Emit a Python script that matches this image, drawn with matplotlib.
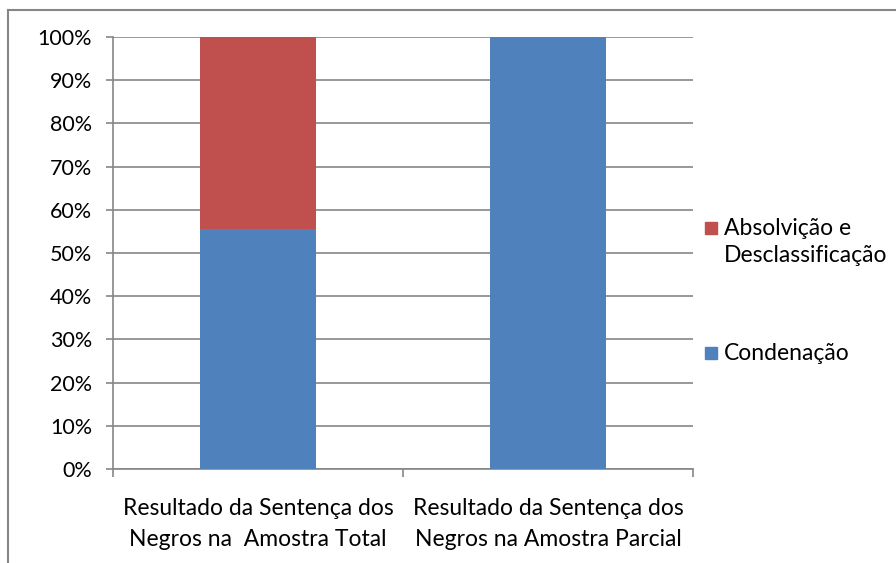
import numpy as np
import matplotlib
matplotlib.use('Agg')
import matplotlib.pyplot as plt
from matplotlib.lines import Line2D
from matplotlib.patches import Rectangle

categories = ['Resultado da Sentença dos\nNegros na  Amostra Total',
              'Resultado da Sentença dos\nNegros na Amostra Parcial']
condenacao = [55.5, 100.0]
absolvicao = [44.5, 0.0]
series_labels = ['Condenação', 'Absolvição e\nDesclassificação']
colors = ['#4F81BD', '#C0504D']
grid_color = '#868686'

plt.rcParams['font.family'] = ['Lato', 'DejaVu Sans']

W, H = 896, 563
fig = plt.figure(figsize=(W / 100, H / 100), dpi=100)
ax = fig.add_axes([113 / W, 1 - 469 / H, 580 / W, 432 / H])

x = np.arange(len(categories))
ax.bar(x, condenacao, width=0.4, color=colors[0], zorder=3)
ax.bar(x, absolvicao, width=0.4, bottom=condenacao, color=colors[1], zorder=3)

ax.set_xlim(-0.5, len(categories) - 0.5)
ax.set_ylim(0, 100)
ax.set_yticks(np.arange(0, 101, 10))
ax.set_yticklabels([f'{v}%' for v in range(0, 101, 10)])
ax.yaxis.grid(True, color=grid_color, linewidth=1.2, zorder=0)
ax.set_axisbelow(True)

ax.set_xticks([-0.5, 0.5, 1.5])
ax.set_xticklabels([])
ax.set_xticks(x, minor=True)
ax.set_xticklabels(categories, minor=True, fontsize=16.5, linespacing=1.55)
ax.tick_params(axis='x', which='major', direction='out', length=6, color=grid_color, width=1.2)
ax.tick_params(axis='x', which='minor', length=0, pad=21)
ax.tick_params(axis='y', direction='out', length=5, color=grid_color, width=1.2,
               labelsize=15.5, pad=10)

for s in ['top', 'right']:
    ax.spines[s].set_visible(False)
for s in ['left', 'bottom']:
    ax.spines[s].set_color(grid_color)
    ax.spines[s].set_linewidth(1.2)

# legend, Excel style (marker aligned with first text line)
leg_items = [(series_labels[1], colors[1], 228), (series_labels[0], colors[0], 353)]
for label, col, yc in leg_items:
    fig.add_artist(Rectangle((705 / W, 1 - (yc + 6) / H), 12 / W, 12 / H,
                             color=col, transform=fig.transFigure))
    fig.text(724 / W, 1 - (yc - 10) / H, label, fontsize=16.5, va='top', ha='left',
             linespacing=1.35)

# chart border (top and left only visible in the crop)
fig.add_artist(Line2D([8 / W, 1], [1 - 10 / H, 1 - 10 / H], color='#868686', lw=1.5,
                      transform=fig.transFigure))
fig.add_artist(Line2D([8 / W, 8 / W], [0, 1 - 10 / H], color='#868686', lw=1.5,
                      transform=fig.transFigure))

fig.savefig('out.png', dpi=100)
